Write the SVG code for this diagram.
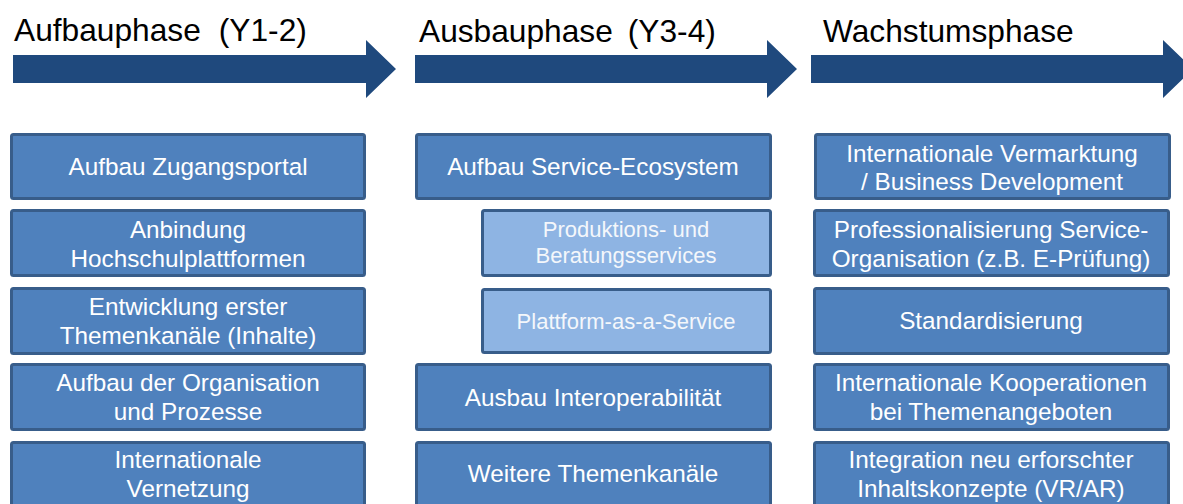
<svg xmlns="http://www.w3.org/2000/svg" width="1183" height="504" viewBox="0 0 1183 504">
<style>
.t{font-family:"Liberation Sans",Arial,sans-serif;font-size:31.7px;fill:#000}
.b{fill:#4F81BD;stroke:#385D8A;stroke-width:3}
.s{fill:#8EB4E3;stroke:#385D8A;stroke-width:3}
.a{fill:#1F497D}
.l{font-family:"Liberation Sans",Arial,sans-serif;font-size:24.3px;fill:#fff;text-anchor:middle}
.m{font-family:"Liberation Sans",Arial,sans-serif;font-size:22px;fill:#F4F7FB;text-anchor:middle}
</style>
<rect width="1183" height="504" fill="#fff"/>
<g id="connectors">
<polygon class="a" points="13,55 366,55 366,40 396,69 366,98 366,83 13,83"/>
<polygon class="a" points="415,55 767,55 767,40 797,69 767,98 767,83 415,83"/>
<polygon class="a" points="811,55 1163,55 1163,40 1193,69 1163,98 1163,83 811,83"/>
</g>
<g id="titles">
<text class="t" x="14" y="41">Aufbauphase<tspan dx="18">(Y1-2)</tspan></text>
<text class="t" x="419" y="42">Ausbauphase<tspan dx="15">(Y3-4)</tspan></text>
<text class="t" x="823" y="42">Wachstumsphase</text>
</g>
<g id="c1r1"><rect class="b" x="11.5" y="134.5" width="353" height="64" rx="2"/><text class="l" x="188" y="175">Aufbau Zugangsportal</text></g>
<g id="c1r2"><rect class="b" x="11.5" y="210.5" width="353" height="65" rx="2"/><text class="l" x="188" y="238">Anbindung</text><text class="l" x="188" y="267">Hochschulplattformen</text></g>
<g id="c1r3"><rect class="b" x="11.5" y="288.5" width="353" height="65" rx="2"/><text class="l" x="188" y="315">Entwicklung erster</text><text class="l" x="188" y="344">Themenkanäle (Inhalte)</text></g>
<g id="c1r4"><rect class="b" x="11.5" y="364.5" width="353" height="65" rx="2"/><text class="l" x="188" y="391">Aufbau der Organisation</text><text class="l" x="188" y="420">und Prozesse</text></g>
<g id="c1r5"><rect class="b" x="11.5" y="442.5" width="353" height="65" rx="2"/><text class="l" x="188" y="468">Internationale</text><text class="l" x="188" y="497">Vernetzung</text></g>
<g id="c2r1"><rect class="b" x="416.5" y="134.5" width="354" height="64" rx="2"/><text class="l" x="593" y="175">Aufbau Service-Ecosystem</text></g>
<g id="c2r2"><rect class="s" x="482.5" y="210.5" width="288" height="65" rx="2"/><text class="m" x="626" y="237">Produktions- und</text><text class="m" x="626" y="263">Beratungsservices</text></g>
<g id="c2r3"><rect class="s" x="482.5" y="289.5" width="288" height="63" rx="2"/><text class="m" x="626" y="329">Plattform-as-a-Service</text></g>
<g id="c2r4"><rect class="b" x="416.5" y="364.5" width="354" height="65" rx="2"/><text class="l" x="593" y="406">Ausbau Interoperabilität</text></g>
<g id="c2r5"><rect class="b" x="416.5" y="442.5" width="354" height="65" rx="2"/><text class="l" x="593" y="482">Weitere Themenkanäle</text></g>
<g id="c3r1"><rect class="b" x="815.5" y="134.5" width="354" height="64" rx="2"/><text class="l" x="992" y="162">Internationale Vermarktung</text><text class="l" x="992" y="190">/ Business Development</text></g>
<g id="c3r2"><rect class="b" x="814.5" y="210.5" width="354" height="65" rx="2"/><text class="l" x="991" y="238">Professionalisierung Service-</text><text class="l" x="991" y="267">Organisation (z.B. E-Prüfung)</text></g>
<g id="c3r3"><rect class="b" x="814.5" y="288.5" width="354" height="65" rx="2"/><text class="l" x="991" y="329">Standardisierung</text></g>
<g id="c3r4"><rect class="b" x="814.5" y="364.5" width="354" height="65" rx="2"/><text class="l" x="991" y="391">Internationale Kooperationen</text><text class="l" x="991" y="420">bei Themenangeboten</text></g>
<g id="c3r5"><rect class="b" x="814.5" y="442.5" width="354" height="65" rx="2"/><text class="l" x="991" y="468">Integration neu erforschter</text><text class="l" x="991" y="497">Inhaltskonzepte (VR/AR)</text></g>
</svg>
